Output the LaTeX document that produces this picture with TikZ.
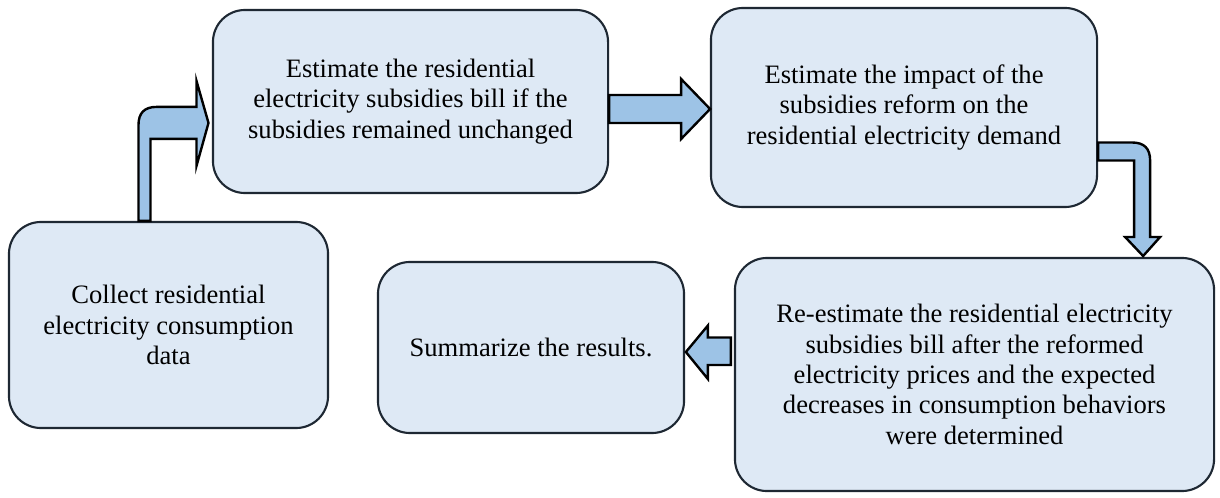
\documentclass[tikz,border=0pt]{standalone}
\usepackage{fontspec}
\setmainfont{Liberation Serif}
\usetikzlibrary{calc}
\definecolor{boxfill}{HTML}{DEE9F5}
\definecolor{boxline}{HTML}{1E2833}
\definecolor{arrowfill}{HTML}{9DC3E6}

\begin{document}
\begin{tikzpicture}[x=0.025cm, y=-0.025cm,
	stage/.style={draw=boxline, fill=boxfill, line width=1.5pt, rounded corners=0.8cm,
		align=center, inner sep=0pt, font=\fontsize{18.9}{21.6}\selectfont},
	blockarrow/.style={draw=black, fill=arrowfill, line width=1.7pt, line join=miter}]
	\useasboundingbox (0,0) rectangle (1220,498);

	% steps
	\node [stage, minimum width=7.975cm, minimum height=5.15cm] (collect) at (168.5,325)
		{Collect residential \\ electricity consumption \\ data};
	\node [stage, minimum width=9.875cm, minimum height=4.575cm] (bill) at (410.5,101.5)
		{Estimate the residential \\ electricity subsidies bill if the \\ subsidies remained unchanged};
	\node [stage, minimum width=9.65cm, minimum height=4.975cm] (impact) at (904,107.5)
		{Estimate the impact of the \\ subsidies reform on the \\ residential electricity demand};
	\node [stage, minimum width=11.975cm, minimum height=5.825cm] (reest) at (974.5,374.5)
		{Re-estimate the residential electricity \\ subsidies bill after the reformed \\ electricity prices and the expected \\ decreases in consumption behaviors \\ were determined};
	\node [stage, minimum width=7.65cm, minimum height=4.275cm] (summary) at (531,347.5)
		{Summarize the results.};

	% block arrows
	\draw [blockarrow] ($(collect.north)+(-30,0)$) -- ++(0,-96)
		.. controls +(0,-12) and +(-12,0) .. ++(18,-18)
		-- ++(40,0) -- ++(0,-26) -- ++(12,42) -- ++(-12,43) -- ++(0,-27)
		-- ++(-46,0) -- ++(0,82) -- cycle;
	\draw [blockarrow] ($(bill.east)+(0,-6.5)$) -- ++(72,0) -- ++(0,-16) -- ++(29,30)
		-- ++(-29,30) -- ++(0,-16) -- ++(-72,0) -- cycle;
	\draw [blockarrow] ($(impact.east)+(0,35)$) -- ++(34,0)
		.. controls +(12,0) and +(0,-12) .. ++(18,18)
		-- ++(0,76.5) -- ++(10,0) -- ++(-17,19) -- ++(-18,-19) -- ++(9,0)
		-- ++(0,-76.5) -- ++(-36,0) -- cycle;
	\draw [blockarrow] ($(reest.west)+(-3,-37)$) -- ++(-23,0) -- ++(0,-12) -- ++(-22,26.5)
		-- ++(22,27) -- ++(0,-14) -- ++(23,0) -- cycle;
\end{tikzpicture}
\end{document}
